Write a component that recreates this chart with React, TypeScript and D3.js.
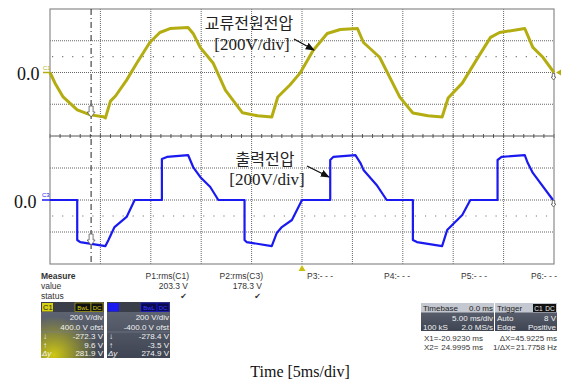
import React from "react";
import * as d3 from "d3";

const W = 563;
const H = 383;

// time axis in ms (5 ms/div), volts at 200 V/div
const timeTicks = [-25, -20, -15, -10, -5, 0, 5, 10, 15, 20, 25];
const voltTicks = [-400, -200, 0, 200, 400];

// C1: AC source voltage
const acTime = [
  -25.0, -24.5, -23.7, -22.3, -21.0, -19.7, -19.5, -19.0, -18.5, -17.4, -16.4, -15.1, -14.1, -13.1,
  -11.3, -10.8, -10.1, -8.8, -7.6, -5.9, -4.4, -3.0, -2.4, -1.2, -0.2, 1.1, 2.5, 3.8, 5.5, 6.1,
  7.7, 9.7, 11.0, 12.5, 13.9, 14.5, 15.9, 17.4, 18.7, 19.6, 22.1, 22.9, 23.9, 25.0,
];
const acVolt = [
  0, -67, -154, -236, -267, -279, -286, -180, -148, -48, 58, 189, 252, 277,
  283, 246, 158, 58, -111, -254, -273, -280, -154, -79, -4, 139, 246, 271, 277, 189,
  96, -155, -255, -273, -280, -161, -67, 89, 221, 252, 277, 158, 96, 0,
];

// C3: output voltage
const outTime = [
  -25.0, -22.3, -22.3, -22.0, -19.5, -19.2, -18.6, -17.4, -16.6, -13.9, -13.9, -13.4, -11.3, -10.8,
  -10.1, -9.1, -8.3, -5.7, -5.7, -5.5, -3.0, -2.5, -2.0, -1.0, 0.0, 2.8, 2.8, 3.1, 5.3, 5.8,
  6.1, 7.4, 8.4, 11.0, 11.0, 11.4, 13.9, 14.4, 14.9, 15.9, 16.7, 19.4, 19.4, 19.8, 22.1, 22.4,
  22.9, 24.9,
];
const outVolt = [
  0, 0, -250, -263, -288, -250, -169, -106, 0, 0, 256, 269, 281, 206,
  144, 81, 0, 0, -250, -263, -288, -206, -169, -125, 0, 0, 250, 269, 281, 231,
  188, 94, 0, 0, -250, -263, -288, -188, -156, -94, 0, 0, 250, 269, 281, 231,
  169, 0,
];

const cursorX1 = -20.923;
const cursorX2 = 24.9995;
const levelTop = 100;
const levelBot = -100;

const sans = "'Liberation Sans', Arial, sans-serif";
const serif = "'Liberation Serif', 'Times New Roman', serif";
const kr = "'Noto Sans CJK KR', sans-serif";

const yellow = "#b4ad12";
const blue = "#1a1af0";

export default function App() {
  const x = d3.scaleLinear().domain([-25, 25]).range([50, 554]);
  const yTop = d3.scaleLinear().domain([-400, 400]).range([136, 9]);
  const yBot = d3.scaleLinear().domain([-400, 400]).range([264, 136]);

  const acLine = d3
    .line<number>()
    .x((_, i) => x(acTime[i]))
    .y((d) => yTop(d));
  const outLine = d3
    .line<number>()
    .x((_, i) => x(outTime[i]))
    .y((d) => yBot(d));

  const minorTicks = d3.range(-25, 25.01, 1);

  const cursorArrow = (cx: number, tip: number, s = 1) => {
    const p = `M${cx - 2 * s},${tip - 11 * s} L${cx + 2 * s},${tip - 11 * s} L${cx + 2 * s},${tip - 5 * s} L${cx + 4 * s},${tip - 5 * s} L${cx},${tip} L${cx - 4 * s},${tip - 5 * s} L${cx - 2 * s},${tip - 5 * s} Z`;
    return <path d={p} fill="#fff" stroke="#555" strokeWidth={0.8} />;
  };

  return (
    <svg
      width={W}
      height={H}
      style={{ position: "absolute", left: 0, top: 0, background: "#fff" }}
    >
      <defs>
        <marker id="ah" viewBox="0 0 10 10" refX="9" refY="5" markerWidth="7" markerHeight="7" orient="auto">
          <path d="M0,1 L10,5 L0,9 Z" fill="#111" />
        </marker>
        <linearGradient id="boxg" x1="0" y1="0" x2="0" y2="1">
          <stop offset="0" stopColor="#646a78" />
          <stop offset="1" stopColor="#3e4452" />
        </linearGradient>
        <radialGradient id="glow" cx="0.2" cy="0.95" r="0.7">
          <stop offset="0" stopColor="#d6cf10" stopOpacity="0.95" />
          <stop offset="1" stopColor="#d6cf10" stopOpacity="0" />
        </radialGradient>
      </defs>

      {/* grid */}
      <g>
        {timeTicks.slice(1, -1).map((t) => (
          <line key={"v" + t} x1={x(t)} x2={x(t)} y1={9} y2={264} stroke="#666" strokeWidth={1} strokeDasharray="1,1" />
        ))}
        {voltTicks.slice(1, -1).map((v) => (
          <line key={"ht" + v} x1={50} x2={554} y1={yTop(v)} y2={yTop(v)} stroke="#666" strokeWidth={1} strokeDasharray="1,1" />
        ))}
        {voltTicks.slice(1, -1).map((v) => (
          <line key={"hb" + v} x1={50} x2={554} y1={yBot(v)} y2={yBot(v)} stroke="#666" strokeWidth={1} strokeDasharray="1,1" />
        ))}
        <line x1={50} x2={554} y1={136} y2={136} stroke="#555" strokeWidth={1} />
        {minorTicks.map((t) => (
          <line key={"mt" + t} x1={x(t)} x2={x(t)} y1={134} y2={138} stroke="#555" strokeWidth={1} />
        ))}
        {/* level dots */}
        <line x1={52} x2={554} y1={yTop(levelTop)} y2={yTop(levelTop)} stroke="#777" strokeWidth={1.2} strokeDasharray="1.2,8.88" />
        <line x1={52} x2={554} y1={yBot(levelBot)} y2={yBot(levelBot)} stroke="#777" strokeWidth={1.2} strokeDasharray="1.2,8.88" />
        <rect x={50} y={9} width={504} height={255} fill="none" stroke="#8a8a8a" strokeWidth={1.2} />
      </g>

      {/* cursor X1 */}
      <line x1={x(cursorX1)} x2={x(cursorX1)} y1={9} y2={264} stroke="#222" strokeWidth={1} strokeDasharray="6,3,1,3" />

      {/* traces */}
      <path d={acLine(acVolt) ?? ""} fill="none" stroke={yellow} strokeWidth={3} strokeLinejoin="round" />
      <path d={outLine(outVolt) ?? ""} fill="none" stroke={blue} strokeWidth={2.2} strokeLinejoin="round" />

      {cursorArrow(x(cursorX1), 117)}
      {cursorArrow(x(cursorX1), 245)}
      {cursorArrow(x(cursorX2) - 0.5, 80, 0.6)}
      {cursorArrow(x(cursorX2) - 0.5, 207, 0.6)}

      {/* channel markers */}
      <line x1={43} x2={50} y1={yTop(0)} y2={yTop(0)} stroke={yellow} strokeWidth={1.5} />
      <text x={43} y={yTop(0) - 3} fontSize={6} fill={yellow} fontFamily={sans}>C1</text>
      <line x1={42} x2={50} y1={yBot(0)} y2={yBot(0)} stroke={blue} strokeWidth={1.5} />
      <text x={42} y={yBot(0) - 3} fontSize={6} fill={blue} fontFamily={sans}>C3</text>
      <path d={`M556,${yTop(0)} L561,${yTop(0) - 3} L561,${yTop(0) + 3} Z`} fill={yellow} />
      <path d={`M${x(0)},265 L${x(0) - 3.5},271 L${x(0) + 3.5},271 Z`} fill="#c8bf10" />

      <text x={17} y={80} fontSize={18} fontFamily={serif} fill="#111">0.0</text>
      <text x={14} y={208} fontSize={18} fontFamily={serif} fill="#111">0.0</text>

      {/* annotations */}
      <text x={249} y={29} fontSize={16} fontFamily={kr} fill="#222" textAnchor="middle">교류전원전압</text>
      <text x={252} y={50} fontSize={17} fontFamily={serif} fill="#222" textAnchor="middle">[200V/div]</text>
      <line x1={294} y1={39} x2={314} y2={50} stroke="#111" strokeWidth={1.3} markerEnd="url(#ah)" />
      <text x={265} y={165} fontSize={16} fontFamily={kr} fill="#222" textAnchor="middle">출력전압</text>
      <text x={267} y={185} fontSize={17} fontFamily={serif} fill="#222" textAnchor="middle">[200V/div]</text>
      <line x1={307} y1={166} x2={329} y2={177} stroke="#111" strokeWidth={1.3} markerEnd="url(#ah)" />

      {/* measure table */}
      <g fontFamily={sans} fontSize={8.5} fill="#333">
        <text x={41} y={279} fontWeight="bold">Measure</text>
        <text x={41} y={289}>value</text>
        <text x={41} y={299}>status</text>
        <text x={189} y={279} textAnchor="end">P1:rms(C1)</text>
        <text x={188} y={289} textAnchor="end">203.3 V</text>
        <text x={187} y={299} textAnchor="end" fontSize={8} fontFamily="'DejaVu Sans'">✔</text>
        <text x={263} y={279} textAnchor="end">P2:rms(C3)</text>
        <text x={262} y={289} textAnchor="end">178.3 V</text>
        <text x={261} y={299} textAnchor="end" fontSize={8} fontFamily="'DejaVu Sans'">✔</text>
        <text x={333} y={279} textAnchor="end">P3:- - -</text>
        <text x={410} y={279} textAnchor="end">P4:- - -</text>
        <text x={487} y={279} textAnchor="end">P5:- - -</text>
        <text x={557} y={279} textAnchor="end">P6:- - -</text>
      </g>

      {/* C1 box */}
      <g fontFamily={sans} fontSize={8}>
        <rect x={41} y={302} width={63} height={56} fill="url(#boxg)" />
        <rect x={41} y={302} width={63} height={56} fill="url(#glow)" />
        <rect x={41} y={302} width={63} height={10} fill="#3a3e48" />
        <rect x={42} y={303} width={11} height={8.5} fill="#d8d010" />
        <text x={43} y={310} fill="#222" fontSize={7.5}>C1</text>
        <rect x={75} y={303} width={16} height={8.5} fill="#111" stroke="#c8c010" strokeWidth={0.6} />
        <text x={83} y={310} fill="#d8d010" fontSize={6} textAnchor="middle">BwL</text>
        <rect x={91} y={303} width={12} height={8.5} fill="#111" stroke="#c8c010" strokeWidth={0.6} />
        <text x={97} y={310} fill="#d8d010" fontSize={6} textAnchor="middle">DC</text>
        <g fill="#f2f2f2" textAnchor="end">
          <text x={103} y={320}>200 V/div</text>
          <text x={103} y={330}>400.0 V ofst</text>
          <text x={103} y={339}>-272.3 V</text>
          <text x={103} y={347.5}>9.6 V</text>
          <text x={103} y={356}>281.9 V</text>
        </g>
        <line x1={41} x2={104} y1={332} y2={332} stroke="#7a808c" strokeWidth={0.6} />
        <g fill="#f2f2f2">
          <text x={43} y={339}>↓</text>
          <text x={43} y={347.5}>↑</text>
          <text x={42} y={356} fontStyle="italic">Δy</text>
        </g>
      </g>

      {/* C3 box */}
      <g fontFamily={sans} fontSize={8}>
        <rect x={107} y={302} width={63} height={56} fill="url(#boxg)" />
        <rect x={107} y={302} width={63} height={10} fill="#3a3e48" />
        <rect x={108} y={303} width={11} height={8.5} fill={blue} />
        <rect x={141} y={303} width={16} height={8.5} fill="#0a0a50" stroke={blue} strokeWidth={0.6} />
        <text x={149} y={310} fill="#3a3aff" fontSize={6} textAnchor="middle">BwL</text>
        <rect x={157} y={303} width={12} height={8.5} fill="#0a0a50" stroke={blue} strokeWidth={0.6} />
        <text x={163} y={310} fill="#3a3aff" fontSize={6} textAnchor="middle">DC</text>
        <g fill="#f2f2f2" textAnchor="end">
          <text x={169} y={320}>200 V/div</text>
          <text x={169} y={330}>-400.0 V ofst</text>
          <text x={169} y={339}>-278.4 V</text>
          <text x={169} y={347.5}>-3.5 V</text>
          <text x={169} y={356}>274.9 V</text>
        </g>
        <line x1={107} x2={170} y1={332} y2={332} stroke="#7a808c" strokeWidth={0.6} />
        <g fill="#f2f2f2">
          <text x={109} y={339}>↓</text>
          <text x={109} y={347.5}>↑</text>
          <text x={108} y={356} fontStyle="italic">Δy</text>
        </g>
      </g>

      {/* timebase / trigger */}
      <g fontFamily={sans} fontSize={8}>
        <rect x={421} y={303} width={73} height={28} fill="url(#boxg)" />
        <rect x={421} y={303} width={73} height={9.5} fill="#c4c8d0" />
        <text x={423} y={310.5} fill="#222">Timebase</text>
        <text x={493} y={310.5} fill="#222" textAnchor="end">0.0 ms</text>
        <text x={493} y={321} fill="#f2f2f2" textAnchor="end">5.00 ms/div</text>
        <text x={423} y={329.5} fill="#f2f2f2">100 kS</text>
        <text x={493} y={329.5} fill="#f2f2f2" textAnchor="end">2.0 MS/s</text>

        <rect x={495} y={303} width={62} height={28} fill="url(#boxg)" />
        <rect x={495} y={303} width={62} height={9.5} fill="#c4c8d0" />
        <text x={497} y={310.5} fill="#222">Trigger</text>
        <rect x={533} y={304} width={11} height={8} fill="#111" />
        <text x={538.5} y={310.5} fill="#eee" fontSize={6.5} textAnchor="middle">C1</text>
        <rect x={544} y={304} width={12} height={8} fill="#111" />
        <text x={550} y={310.5} fill="#eee" fontSize={6.5} textAnchor="middle">DC</text>
        <text x={497} y={321} fill="#f2f2f2">Auto</text>
        <text x={556} y={321} fill="#f2f2f2" textAnchor="end">8 V</text>
        <text x={497} y={329.5} fill="#f2f2f2">Edge</text>
        <text x={556} y={329.5} fill="#f2f2f2" textAnchor="end">Positive</text>

        <g fill="#333">
          <text x={424} y={341}>X1=</text>
          <text x={483} y={341} textAnchor="end">-20.9230 ms</text>
          <text x={515} y={341} textAnchor="end">ΔX=</text>
          <text x={557} y={341} textAnchor="end">45.9225 ms</text>
          <text x={424} y={350}>X2=</text>
          <text x={483} y={350} textAnchor="end">24.9995 ms</text>
          <text x={515} y={350} textAnchor="end">1/ΔX=</text>
          <text x={557} y={350} textAnchor="end">21.7758 Hz</text>
        </g>
      </g>

      <text x={300} y={377} fontSize={16} fontFamily={serif} fill="#111" textAnchor="middle">Time [5ms/div]</text>
    </svg>
  );
}
